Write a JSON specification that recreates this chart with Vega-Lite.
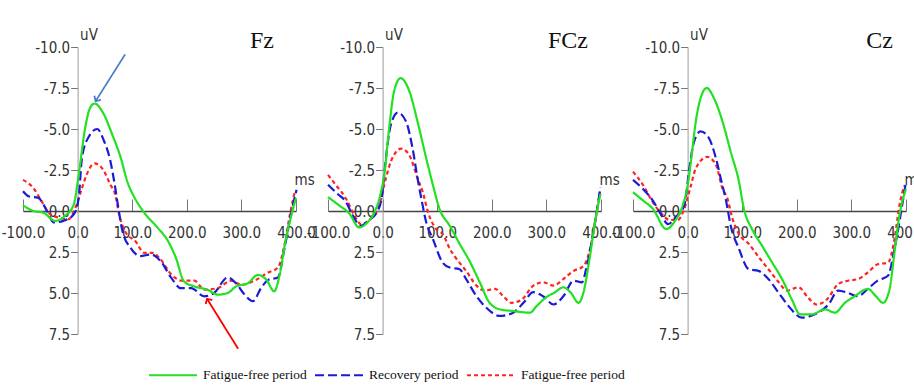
{
  "$schema": "https://vega.github.io/schema/vega-lite/v6.json",
  "background": "white",
  "padding": {"left": 1, "top": 27, "right": 5, "bottom": 5},
  "datasets": {
    "erp": [
      {"site":"Fz","group":"FF2","ms":-100,"uv":-1.9},{"site":"Fz","group":"FF2","ms":-81,"uv":-1.4},{"site":"Fz","group":"FF2","ms":-66,"uv":-0.6},{"site":"Fz","group":"FF2","ms":-50,"uv":0.2},{"site":"Fz","group":"FF2","ms":-35,"uv":0.4},{"site":"Fz","group":"FF2","ms":-17,"uv":0.5},{"site":"Fz","group":"FF2","ms":-4,"uv":-0.2},{"site":"Fz","group":"FF2","ms":8,"uv":-1.4},{"site":"Fz","group":"FF2","ms":17,"uv":-2.25},{"site":"Fz","group":"FF2","ms":31,"uv":-2.9},{"site":"Fz","group":"FF2","ms":48,"uv":-2.45},{"site":"Fz","group":"FF2","ms":60,"uv":-1.6},{"site":"Fz","group":"FF2","ms":69,"uv":-1.0},{"site":"Fz","group":"FF2","ms":76,"uv":0.2},{"site":"Fz","group":"FF2","ms":88,"uv":1.3},{"site":"Fz","group":"FF2","ms":106,"uv":1.85},{"site":"Fz","group":"FF2","ms":122,"uv":2.55},{"site":"Fz","group":"FF2","ms":137,"uv":2.55},{"site":"Fz","group":"FF2","ms":152,"uv":2.95},{"site":"Fz","group":"FF2","ms":171,"uv":3.85},{"site":"Fz","group":"FF2","ms":192,"uv":4.25},{"site":"Fz","group":"FF2","ms":214,"uv":4.25},{"site":"Fz","group":"FF2","ms":232,"uv":4.8},{"site":"Fz","group":"FF2","ms":257,"uv":4.7},{"site":"Fz","group":"FF2","ms":281,"uv":4.25},{"site":"Fz","group":"FF2","ms":300,"uv":4.5},{"site":"Fz","group":"FF2","ms":324,"uv":4.25},{"site":"Fz","group":"FF2","ms":349,"uv":3.75},{"site":"Fz","group":"FF2","ms":367,"uv":3.45},{"site":"Fz","group":"FF2","ms":379,"uv":2.05},{"site":"Fz","group":"FF2","ms":389,"uv":0.2},{"site":"Fz","group":"FF2","ms":398,"uv":-1.2},
      {"site":"Fz","group":"REC","ms":-100,"uv":-1.2},{"site":"Fz","group":"REC","ms":-90,"uv":-0.9},{"site":"Fz","group":"REC","ms":-72,"uv":-0.8},{"site":"Fz","group":"REC","ms":-56,"uv":0},{"site":"Fz","group":"REC","ms":-44,"uv":0.7},{"site":"Fz","group":"REC","ms":-26,"uv":0.6},{"site":"Fz","group":"REC","ms":-7,"uv":0.2},{"site":"Fz","group":"REC","ms":2,"uv":-0.8},{"site":"Fz","group":"REC","ms":8,"uv":-3.25},{"site":"Fz","group":"REC","ms":20,"uv":-4.5},{"site":"Fz","group":"REC","ms":36,"uv":-5.0},{"site":"Fz","group":"REC","ms":48,"uv":-4.3},{"site":"Fz","group":"REC","ms":60,"uv":-3.05},{"site":"Fz","group":"REC","ms":69,"uv":-1.4},{"site":"Fz","group":"REC","ms":75,"uv":-0.1},{"site":"Fz","group":"REC","ms":82,"uv":1.2},{"site":"Fz","group":"REC","ms":97,"uv":2.25},{"site":"Fz","group":"REC","ms":115,"uv":2.75},{"site":"Fz","group":"REC","ms":134,"uv":2.65},{"site":"Fz","group":"REC","ms":152,"uv":3.05},{"site":"Fz","group":"REC","ms":171,"uv":4.05},{"site":"Fz","group":"REC","ms":189,"uv":4.7},{"site":"Fz","group":"REC","ms":208,"uv":4.7},{"site":"Fz","group":"REC","ms":232,"uv":5.2},{"site":"Fz","group":"REC","ms":250,"uv":5.0},{"site":"Fz","group":"REC","ms":275,"uv":4.05},{"site":"Fz","group":"REC","ms":290,"uv":4.4},{"site":"Fz","group":"REC","ms":306,"uv":5.1},{"site":"Fz","group":"REC","ms":321,"uv":5.5},{"site":"Fz","group":"REC","ms":336,"uv":4.7},{"site":"Fz","group":"REC","ms":349,"uv":4.2},{"site":"Fz","group":"REC","ms":367,"uv":4.05},{"site":"Fz","group":"REC","ms":379,"uv":2.25},{"site":"Fz","group":"REC","ms":392,"uv":0},{"site":"Fz","group":"REC","ms":401,"uv":-1.3},
      {"site":"Fz","group":"FF1","ms":-100,"uv":-0.35},{"site":"Fz","group":"FF1","ms":-81,"uv":0},{"site":"Fz","group":"FF1","ms":-63,"uv":0.1},{"site":"Fz","group":"FF1","ms":-41,"uv":0.6},{"site":"Fz","group":"FF1","ms":-23,"uv":0.3},{"site":"Fz","group":"FF1","ms":-7,"uv":-0.4},{"site":"Fz","group":"FF1","ms":2,"uv":-2.2},{"site":"Fz","group":"FF1","ms":14,"uv":-5.1},{"site":"Fz","group":"FF1","ms":23,"uv":-6.3},{"site":"Fz","group":"FF1","ms":31,"uv":-6.55},{"site":"Fz","group":"FF1","ms":48,"uv":-5.9},{"site":"Fz","group":"FF1","ms":63,"uv":-4.7},{"site":"Fz","group":"FF1","ms":79,"uv":-3.25},{"site":"Fz","group":"FF1","ms":91,"uv":-1.8},{"site":"Fz","group":"FF1","ms":103,"uv":-0.9},{"site":"Fz","group":"FF1","ms":122,"uv":0.1},{"site":"Fz","group":"FF1","ms":146,"uv":1.0},{"site":"Fz","group":"FF1","ms":165,"uv":1.8},{"site":"Fz","group":"FF1","ms":180,"uv":2.85},{"site":"Fz","group":"FF1","ms":195,"uv":4.3},{"site":"Fz","group":"FF1","ms":214,"uv":4.6},{"site":"Fz","group":"FF1","ms":238,"uv":4.8},{"site":"Fz","group":"FF1","ms":257,"uv":5.1},{"site":"Fz","group":"FF1","ms":275,"uv":5.0},{"site":"Fz","group":"FF1","ms":290,"uv":4.6},{"site":"Fz","group":"FF1","ms":312,"uv":4.4},{"site":"Fz","group":"FF1","ms":330,"uv":3.9},{"site":"Fz","group":"FF1","ms":346,"uv":4.2},{"site":"Fz","group":"FF1","ms":360,"uv":4.9},{"site":"Fz","group":"FF1","ms":370,"uv":3.9},{"site":"Fz","group":"FF1","ms":382,"uv":1.6},{"site":"Fz","group":"FF1","ms":392,"uv":0.2},{"site":"Fz","group":"FF1","ms":400,"uv":-0.8},
      {"site":"FCz","group":"FF2","ms":-100,"uv":-2.2},{"site":"FCz","group":"FF2","ms":-86,"uv":-1.6},{"site":"FCz","group":"FF2","ms":-67,"uv":-0.75},{"site":"FCz","group":"FF2","ms":-52,"uv":0.25},{"site":"FCz","group":"FF2","ms":-40,"uv":0.8},{"site":"FCz","group":"FF2","ms":-21,"uv":0.45},{"site":"FCz","group":"FF2","ms":-6,"uv":-0.35},{"site":"FCz","group":"FF2","ms":6,"uv":-2.0},{"site":"FCz","group":"FF2","ms":15,"uv":-3.0},{"site":"FCz","group":"FF2","ms":34,"uv":-3.8},{"site":"FCz","group":"FF2","ms":49,"uv":-3.4},{"site":"FCz","group":"FF2","ms":64,"uv":-2.0},{"site":"FCz","group":"FF2","ms":74,"uv":-1.1},{"site":"FCz","group":"FF2","ms":83,"uv":0.05},{"site":"FCz","group":"FF2","ms":98,"uv":1.1},{"site":"FCz","group":"FF2","ms":110,"uv":1.4},{"site":"FCz","group":"FF2","ms":123,"uv":2.3},{"site":"FCz","group":"FF2","ms":135,"uv":2.9},{"site":"FCz","group":"FF2","ms":153,"uv":3.65},{"site":"FCz","group":"FF2","ms":172,"uv":4.55},{"site":"FCz","group":"FF2","ms":187,"uv":4.85},{"site":"FCz","group":"FF2","ms":206,"uv":4.75},{"site":"FCz","group":"FF2","ms":221,"uv":5.2},{"site":"FCz","group":"FF2","ms":236,"uv":5.6},{"site":"FCz","group":"FF2","ms":255,"uv":5.4},{"site":"FCz","group":"FF2","ms":276,"uv":4.55},{"site":"FCz","group":"FF2","ms":294,"uv":4.35},{"site":"FCz","group":"FF2","ms":313,"uv":4.55},{"site":"FCz","group":"FF2","ms":331,"uv":4.15},{"site":"FCz","group":"FF2","ms":350,"uv":3.65},{"site":"FCz","group":"FF2","ms":368,"uv":3.35},{"site":"FCz","group":"FF2","ms":380,"uv":2.3},{"site":"FCz","group":"FF2","ms":390,"uv":0.5},{"site":"FCz","group":"FF2","ms":398,"uv":-1.15},
      {"site":"FCz","group":"REC","ms":-100,"uv":-1.6},{"site":"FCz","group":"REC","ms":-83,"uv":-1.05},{"site":"FCz","group":"REC","ms":-67,"uv":-0.55},{"site":"FCz","group":"REC","ms":-55,"uv":0.25},{"site":"FCz","group":"REC","ms":-40,"uv":0.9},{"site":"FCz","group":"REC","ms":-25,"uv":0.55},{"site":"FCz","group":"REC","ms":-9,"uv":0},{"site":"FCz","group":"REC","ms":-1,"uv":-0.95},{"site":"FCz","group":"REC","ms":6,"uv":-3.2},{"site":"FCz","group":"REC","ms":15,"uv":-5.25},{"site":"FCz","group":"REC","ms":28,"uv":-6.0},{"site":"FCz","group":"REC","ms":43,"uv":-5.45},{"site":"FCz","group":"REC","ms":55,"uv":-3.8},{"site":"FCz","group":"REC","ms":64,"uv":-2.0},{"site":"FCz","group":"REC","ms":71,"uv":-0.75},{"site":"FCz","group":"REC","ms":80,"uv":0.7},{"site":"FCz","group":"REC","ms":92,"uv":1.7},{"site":"FCz","group":"REC","ms":110,"uv":3.15},{"site":"FCz","group":"REC","ms":123,"uv":3.45},{"site":"FCz","group":"REC","ms":141,"uv":3.55},{"site":"FCz","group":"REC","ms":153,"uv":4.15},{"site":"FCz","group":"REC","ms":172,"uv":5.2},{"site":"FCz","group":"REC","ms":190,"uv":5.9},{"site":"FCz","group":"REC","ms":215,"uv":6.4},{"site":"FCz","group":"REC","ms":239,"uv":6.2},{"site":"FCz","group":"REC","ms":258,"uv":5.6},{"site":"FCz","group":"REC","ms":276,"uv":4.95},{"site":"FCz","group":"REC","ms":294,"uv":5.2},{"site":"FCz","group":"REC","ms":313,"uv":5.7},{"site":"FCz","group":"REC","ms":331,"uv":5.2},{"site":"FCz","group":"REC","ms":350,"uv":4.25},{"site":"FCz","group":"REC","ms":365,"uv":4.35},{"site":"FCz","group":"REC","ms":374,"uv":3.35},{"site":"FCz","group":"REC","ms":387,"uv":1.1},{"site":"FCz","group":"REC","ms":399,"uv":-1.45},
      {"site":"FCz","group":"FF1","ms":-100,"uv":-0.85},{"site":"FCz","group":"FF1","ms":-80,"uv":-0.35},{"site":"FCz","group":"FF1","ms":-61,"uv":0.15},{"site":"FCz","group":"FF1","ms":-43,"uv":1.0},{"site":"FCz","group":"FF1","ms":-28,"uv":0.7},{"site":"FCz","group":"FF1","ms":-12,"uv":-0.15},{"site":"FCz","group":"FF1","ms":-3,"uv":-1.15},{"site":"FCz","group":"FF1","ms":3,"uv":-2.2},{"site":"FCz","group":"FF1","ms":12,"uv":-5.05},{"site":"FCz","group":"FF1","ms":21,"uv":-7.3},{"site":"FCz","group":"FF1","ms":33,"uv":-8.1},{"site":"FCz","group":"FF1","ms":49,"uv":-7.3},{"site":"FCz","group":"FF1","ms":64,"uv":-5.45},{"site":"FCz","group":"FF1","ms":80,"uv":-3.2},{"site":"FCz","group":"FF1","ms":92,"uv":-1.6},{"site":"FCz","group":"FF1","ms":104,"uv":-0.15},{"site":"FCz","group":"FF1","ms":123,"uv":0.9},{"site":"FCz","group":"FF1","ms":141,"uv":2.0},{"site":"FCz","group":"FF1","ms":160,"uv":3.1},{"site":"FCz","group":"FF1","ms":178,"uv":4.35},{"site":"FCz","group":"FF1","ms":196,"uv":5.6},{"site":"FCz","group":"FF1","ms":215,"uv":6.0},{"site":"FCz","group":"FF1","ms":239,"uv":6.1},{"site":"FCz","group":"FF1","ms":270,"uv":6.2},{"site":"FCz","group":"FF1","ms":282,"uv":5.8},{"site":"FCz","group":"FF1","ms":298,"uv":5.3},{"site":"FCz","group":"FF1","ms":316,"uv":4.95},{"site":"FCz","group":"FF1","ms":331,"uv":4.65},{"site":"FCz","group":"FF1","ms":344,"uv":4.95},{"site":"FCz","group":"FF1","ms":359,"uv":5.6},{"site":"FCz","group":"FF1","ms":368,"uv":4.95},{"site":"FCz","group":"FF1","ms":380,"uv":2.7},{"site":"FCz","group":"FF1","ms":390,"uv":0.5},{"site":"FCz","group":"FF1","ms":399,"uv":-1.05},
      {"site":"Cz","group":"FF2","ms":-100,"uv":-2.4},{"site":"Cz","group":"FF2","ms":-82,"uv":-1.6},{"site":"Cz","group":"FF2","ms":-64,"uv":-0.55},{"site":"Cz","group":"FF2","ms":-48,"uv":0.15},{"site":"Cz","group":"FF2","ms":-33,"uv":0.55},{"site":"Cz","group":"FF2","ms":-18,"uv":0.55},{"site":"Cz","group":"FF2","ms":-6,"uv":-0.15},{"site":"Cz","group":"FF2","ms":6,"uv":-1.55},{"site":"Cz","group":"FF2","ms":15,"uv":-2.6},{"site":"Cz","group":"FF2","ms":36,"uv":-3.3},{"site":"Cz","group":"FF2","ms":52,"uv":-2.8},{"site":"Cz","group":"FF2","ms":64,"uv":-1.35},{"site":"Cz","group":"FF2","ms":73,"uv":-0.75},{"site":"Cz","group":"FF2","ms":82,"uv":0.45},{"site":"Cz","group":"FF2","ms":94,"uv":1.4},{"site":"Cz","group":"FF2","ms":112,"uv":2.0},{"site":"Cz","group":"FF2","ms":130,"uv":2.8},{"site":"Cz","group":"FF2","ms":148,"uv":3.55},{"site":"Cz","group":"FF2","ms":167,"uv":4.35},{"site":"Cz","group":"FF2","ms":182,"uv":4.85},{"site":"Cz","group":"FF2","ms":203,"uv":4.65},{"site":"Cz","group":"FF2","ms":221,"uv":5.3},{"site":"Cz","group":"FF2","ms":236,"uv":5.7},{"site":"Cz","group":"FF2","ms":255,"uv":5.4},{"site":"Cz","group":"FF2","ms":276,"uv":4.45},{"site":"Cz","group":"FF2","ms":294,"uv":4.25},{"site":"Cz","group":"FF2","ms":312,"uv":4.15},{"site":"Cz","group":"FF2","ms":330,"uv":3.75},{"site":"Cz","group":"FF2","ms":348,"uv":3.25},{"site":"Cz","group":"FF2","ms":367,"uv":3.15},{"site":"Cz","group":"FF2","ms":379,"uv":1.7},{"site":"Cz","group":"FF2","ms":388,"uv":-0.35},{"site":"Cz","group":"FF2","ms":397,"uv":-1.55},
      {"site":"Cz","group":"REC","ms":-100,"uv":-1.9},{"site":"Cz","group":"REC","ms":-82,"uv":-1.35},{"site":"Cz","group":"REC","ms":-64,"uv":-0.65},{"site":"Cz","group":"REC","ms":-48,"uv":0.25},{"site":"Cz","group":"REC","ms":-36,"uv":0.8},{"site":"Cz","group":"REC","ms":-21,"uv":0.35},{"site":"Cz","group":"REC","ms":-6,"uv":-0.35},{"site":"Cz","group":"REC","ms":4,"uv":-2.8},{"site":"Cz","group":"REC","ms":12,"uv":-4.25},{"site":"Cz","group":"REC","ms":24,"uv":-4.85},{"site":"Cz","group":"REC","ms":39,"uv":-4.45},{"site":"Cz","group":"REC","ms":52,"uv":-3.2},{"site":"Cz","group":"REC","ms":62,"uv":-1.8},{"site":"Cz","group":"REC","ms":70,"uv":-0.7},{"site":"Cz","group":"REC","ms":79,"uv":0.9},{"site":"Cz","group":"REC","ms":94,"uv":2.3},{"site":"Cz","group":"REC","ms":112,"uv":3.55},{"site":"Cz","group":"REC","ms":130,"uv":3.65},{"site":"Cz","group":"REC","ms":148,"uv":4.15},{"site":"Cz","group":"REC","ms":167,"uv":5.0},{"site":"Cz","group":"REC","ms":185,"uv":5.8},{"site":"Cz","group":"REC","ms":209,"uv":6.5},{"site":"Cz","group":"REC","ms":233,"uv":6.3},{"site":"Cz","group":"REC","ms":258,"uv":5.7},{"site":"Cz","group":"REC","ms":276,"uv":4.85},{"site":"Cz","group":"REC","ms":294,"uv":5.0},{"site":"Cz","group":"REC","ms":312,"uv":5.2},{"site":"Cz","group":"REC","ms":330,"uv":4.75},{"site":"Cz","group":"REC","ms":348,"uv":4.25},{"site":"Cz","group":"REC","ms":367,"uv":3.95},{"site":"Cz","group":"REC","ms":379,"uv":2.3},{"site":"Cz","group":"REC","ms":391,"uv":0.05},{"site":"Cz","group":"REC","ms":400,"uv":-1.8},
      {"site":"Cz","group":"FF1","ms":-100,"uv":-1.15},{"site":"Cz","group":"FF1","ms":-82,"uv":-0.65},{"site":"Cz","group":"FF1","ms":-64,"uv":-0.15},{"site":"Cz","group":"FF1","ms":-39,"uv":1.1},{"site":"Cz","group":"FF1","ms":-24,"uv":0.65},{"site":"Cz","group":"FF1","ms":-9,"uv":-0.35},{"site":"Cz","group":"FF1","ms":0,"uv":-1.55},{"site":"Cz","group":"FF1","ms":6,"uv":-3.0},{"site":"Cz","group":"FF1","ms":15,"uv":-5.45},{"site":"Cz","group":"FF1","ms":24,"uv":-6.9},{"site":"Cz","group":"FF1","ms":35,"uv":-7.5},{"site":"Cz","group":"FF1","ms":48,"uv":-6.9},{"site":"Cz","group":"FF1","ms":64,"uv":-5.45},{"site":"Cz","group":"FF1","ms":79,"uv":-3.6},{"site":"Cz","group":"FF1","ms":94,"uv":-1.8},{"site":"Cz","group":"FF1","ms":103,"uv":-0.15},{"site":"Cz","group":"FF1","ms":118,"uv":1.1},{"site":"Cz","group":"FF1","ms":136,"uv":2.1},{"site":"Cz","group":"FF1","ms":155,"uv":3.15},{"site":"Cz","group":"FF1","ms":173,"uv":4.15},{"site":"Cz","group":"FF1","ms":191,"uv":5.4},{"site":"Cz","group":"FF1","ms":206,"uv":6.3},{"site":"Cz","group":"FF1","ms":227,"uv":6.3},{"site":"Cz","group":"FF1","ms":252,"uv":6.0},{"site":"Cz","group":"FF1","ms":270,"uv":6.2},{"site":"Cz","group":"FF1","ms":288,"uv":5.6},{"site":"Cz","group":"FF1","ms":306,"uv":5.2},{"site":"Cz","group":"FF1","ms":330,"uv":4.75},{"site":"Cz","group":"FF1","ms":345,"uv":5.2},{"site":"Cz","group":"FF1","ms":358,"uv":5.6},{"site":"Cz","group":"FF1","ms":370,"uv":4.75},{"site":"Cz","group":"FF1","ms":379,"uv":2.5},{"site":"Cz","group":"FF1","ms":388,"uv":0.25},{"site":"Cz","group":"FF1","ms":400,"uv":-1.35}
    ],
    "arrows": [
      {"arrow":"blue","ms_from":87,"uv_from":-9.55,"ms_to":33,"uv_to":-6.7},
      {"arrow":"red","ms_from":294,"uv_from":8.4,"ms_to":237,"uv_to":5.35}
    ]
  },
  "config": {
    "view": {"stroke": null},
    "axis": {
      "grid": false,
      "labelFont": "Liberation Sans Narrow, DejaVu Sans Condensed, sans-serif",
      "labelFontSize": 15,
      "labelColor": "#333333",
      "titleFont": "Liberation Sans Narrow, DejaVu Sans Condensed, sans-serif",
      "titleFontSize": 15,
      "titleFontWeight": "normal",
      "titleColor": "#333333",
      "labelOverlap": false,
      "labelFlush": false
    },
    "legend": {
      "orient": "none",
      "direction": "horizontal",
      "title": null,
      "labelFont": "Liberation Serif, Times New Roman, serif",
      "labelFontSize": 13.5,
      "labelColor": "#111111",
      "symbolType": "stroke",
      "symbolSize": 2300,
      "symbolStrokeWidth": 2,
      "labelOffset": 5,
      "columnPadding": 4
    },
    "title": {
      "font": "Liberation Serif, Times New Roman, serif",
      "fontSize": 24,
      "fontWeight": "normal",
      "anchor": "end",
      "frame": "group",
      "offset": -26,
      "color": "#111111"
    }
  },
  "spacing": 32,
  "bounds": "flush",
  "hconcat": [
    {
      "width": 273, "height": 287,
      "title": {"text": "Fz", "dx": -22},
      "layer": [
        {
          "data": {"name": "erp"},
          "transform": [{"filter": "datum.site === 'Fz'"}],
          "mark": {"type": "line", "interpolate": "monotone", "strokeWidth": 2.2},
          "encoding": {
            "x": {"field": "ms", "type": "quantitative", "scale": {"domain": [-100, 400], "nice": false, "zero": false},
              "axis": {"title": "ms", "offset": -123, "values": [-100, 0, 100, 200, 300, 400], "labelExpr": "(datum.value < 0 ? '-' : '') + format(abs(datum.value), '.1f')", "tickSize": -12, "labelPadding": 26, "domainColor": "#444444", "domainWidth": 1.5, "tickColor": "#777777", "titleAngle": 0, "titleX": 271, "titleY": -24, "titleAlign": "left", "titleBaseline": "bottom"}},
            "y": {"field": "uv", "type": "quantitative", "scale": {"domain": [-10, 7.5], "nice": false, "zero": false, "reverse": true},
              "axis": {"title": "uV", "offset": -54.6, "values": [-10, -7.5, -5, -2.5, 0, 2.5, 5, 7.5], "labelExpr": "(datum.value < 0 ? '-' : '') + format(abs(datum.value), '.1f')", "tickSize": 7, "labelPadding": 1, "domainColor": "#9a9a9a", "tickColor": "#777777", "titleAngle": 0, "titleX": 2, "titleY": -5, "titleAlign": "left", "titleBaseline": "bottom"}},
            "color": {"field": "group", "type": "nominal", "scale": {"domain": ["FF1", "REC", "FF2"], "range": ["#22e022", "#1a1ad8", "#ff2424"]}, "legend": {"labelExpr": "datum.label == 'REC' ? 'Recovery period' : 'Fatigue-free period'", "legendX": 125, "legendY": 303}},
            "strokeDash": {"field": "group", "type": "nominal", "scale": {"domain": ["FF1", "REC", "FF2"], "range": [[1, 0], [9, 4], [4, 3]]}, "legend": {"labelExpr": "datum.label == 'REC' ? 'Recovery period' : 'Fatigue-free period'", "legendX": 125, "legendY": 303}}
          }
        },
        {
          "data": {"name": "arrows"},
          "transform": [{"filter": "datum.arrow === 'blue'"}],
          "mark": {"type": "rule", "color": "#4a7cc4", "strokeWidth": 1.8},
          "encoding": {
            "x": {"field": "ms_from", "type": "quantitative", "scale": {"domain": [-100, 400], "nice": false, "zero": false}},
            "y": {"field": "uv_from", "type": "quantitative", "scale": {"domain": [-10, 7.5], "nice": false, "zero": false, "reverse": true}},
            "x2": {"field": "ms_to"},
            "y2": {"field": "uv_to"}
          }
        },
        {
          "data": {"name": "arrows"},
          "transform": [{"filter": "datum.arrow === 'blue'"}],
          "mark": {"type": "point", "shape": "M-1,1L0,0L1,1", "filled": false, "size": 60, "strokeWidth": 1.8, "color": "#4a7cc4", "angle": 211.7, "opacity": 1},
          "encoding": {
            "x": {"field": "ms_to", "type": "quantitative", "scale": {"domain": [-100, 400], "nice": false, "zero": false}},
            "y": {"field": "uv_to", "type": "quantitative", "scale": {"domain": [-10, 7.5], "nice": false, "zero": false, "reverse": true}}
          }
        },
        {
          "data": {"name": "arrows"},
          "transform": [{"filter": "datum.arrow === 'red'"}],
          "mark": {"type": "rule", "color": "#ff0000", "strokeWidth": 1.8},
          "encoding": {
            "x": {"field": "ms_from", "type": "quantitative", "scale": {"domain": [-100, 400], "nice": false, "zero": false}},
            "y": {"field": "uv_from", "type": "quantitative", "scale": {"domain": [-10, 7.5], "nice": false, "zero": false, "reverse": true}},
            "x2": {"field": "ms_to"},
            "y2": {"field": "uv_to"}
          }
        },
        {
          "data": {"name": "arrows"},
          "transform": [{"filter": "datum.arrow === 'red'"}],
          "mark": {"type": "point", "shape": "M-1,1L0,0L1,1", "filled": false, "size": 60, "strokeWidth": 1.8, "color": "#ff0000", "angle": 328.5, "opacity": 1},
          "encoding": {
            "x": {"field": "ms_to", "type": "quantitative", "scale": {"domain": [-100, 400], "nice": false, "zero": false}},
            "y": {"field": "uv_to", "type": "quantitative", "scale": {"domain": [-10, 7.5], "nice": false, "zero": false, "reverse": true}}
          }
        }
      ]
    },
    {
      "width": 273, "height": 287,
      "title": {"text": "FCz", "dx": -13},
      "data": {"name": "erp"},
      "transform": [{"filter": "datum.site === 'FCz'"}],
      "mark": {"type": "line", "interpolate": "monotone", "strokeWidth": 2.2},
      "encoding": {
        "x": {"field": "ms", "type": "quantitative", "scale": {"domain": [-100, 400], "nice": false, "zero": false},
          "axis": {"title": "ms", "offset": -123, "values": [-100, 0, 100, 200, 300, 400], "labelExpr": "(datum.value < 0 ? '-' : '') + format(abs(datum.value), '.1f')", "tickSize": -12, "labelPadding": 26, "domainColor": "#444444", "domainWidth": 1.5, "tickColor": "#777777", "titleAngle": 0, "titleX": 271, "titleY": -24, "titleAlign": "left", "titleBaseline": "bottom"}},
        "y": {"field": "uv", "type": "quantitative", "scale": {"domain": [-10, 7.5], "nice": false, "zero": false, "reverse": true},
          "axis": {"title": "uV", "offset": -54.6, "values": [-10, -7.5, -5, -2.5, 0, 2.5, 5, 7.5], "labelExpr": "(datum.value < 0 ? '-' : '') + format(abs(datum.value), '.1f')", "tickSize": 7, "labelPadding": 1, "domainColor": "#9a9a9a", "tickColor": "#777777", "titleAngle": 0, "titleX": 2, "titleY": -5, "titleAlign": "left", "titleBaseline": "bottom"}},
        "color": {"field": "group", "type": "nominal", "scale": {"domain": ["FF1", "REC", "FF2"], "range": ["#22e022", "#1a1ad8", "#ff2424"]}, "legend": {"labelExpr": "datum.label == 'REC' ? 'Recovery period' : 'Fatigue-free period'", "legendX": 125, "legendY": 303}},
        "strokeDash": {"field": "group", "type": "nominal", "scale": {"domain": ["FF1", "REC", "FF2"], "range": [[1, 0], [9, 4], [4, 3]]}, "legend": {"labelExpr": "datum.label == 'REC' ? 'Recovery period' : 'Fatigue-free period'", "legendX": 125, "legendY": 303}}
      }
    },
    {
      "width": 273, "height": 287,
      "title": {"text": "Cz", "dx": -13},
      "data": {"name": "erp"},
      "transform": [{"filter": "datum.site === 'Cz'"}],
      "mark": {"type": "line", "interpolate": "monotone", "strokeWidth": 2.2},
      "encoding": {
        "x": {"field": "ms", "type": "quantitative", "scale": {"domain": [-100, 400], "nice": false, "zero": false},
          "axis": {"title": "ms", "offset": -123, "values": [-100, 0, 100, 200, 300, 400], "labelExpr": "(datum.value < 0 ? '-' : '') + format(abs(datum.value), '.1f')", "tickSize": -12, "labelPadding": 26, "domainColor": "#444444", "domainWidth": 1.5, "tickColor": "#777777", "titleAngle": 0, "titleX": 271, "titleY": -24, "titleAlign": "left", "titleBaseline": "bottom"}},
        "y": {"field": "uv", "type": "quantitative", "scale": {"domain": [-10, 7.5], "nice": false, "zero": false, "reverse": true},
          "axis": {"title": "uV", "offset": -54.6, "values": [-10, -7.5, -5, -2.5, 0, 2.5, 5, 7.5], "labelExpr": "(datum.value < 0 ? '-' : '') + format(abs(datum.value), '.1f')", "tickSize": 7, "labelPadding": 1, "domainColor": "#9a9a9a", "tickColor": "#777777", "titleAngle": 0, "titleX": 2, "titleY": -5, "titleAlign": "left", "titleBaseline": "bottom"}},
        "color": {"field": "group", "type": "nominal", "scale": {"domain": ["FF1", "REC", "FF2"], "range": ["#22e022", "#1a1ad8", "#ff2424"]}, "legend": {"labelExpr": "datum.label == 'REC' ? 'Recovery period' : 'Fatigue-free period'", "legendX": 125, "legendY": 303}},
        "strokeDash": {"field": "group", "type": "nominal", "scale": {"domain": ["FF1", "REC", "FF2"], "range": [[1, 0], [9, 4], [4, 3]]}, "legend": {"labelExpr": "datum.label == 'REC' ? 'Recovery period' : 'Fatigue-free period'", "legendX": 125, "legendY": 303}}
      }
    }
  ]
}
